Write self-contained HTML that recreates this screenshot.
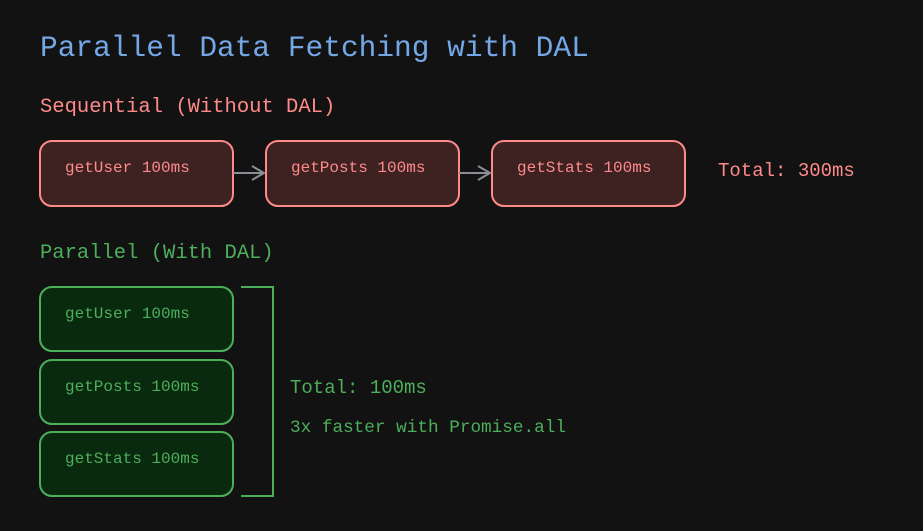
<!DOCTYPE html>
<html><head><style>html,body{margin:0;padding:0;background:#121212;}svg{display:block}</style></head>
<body>
<svg width="923" height="531" xmlns="http://www.w3.org/2000/svg" font-family="'Liberation Mono', monospace">
<rect width="923" height="531" fill="#121212"/>
<text x="40" y="56" font-size="29.5" fill="#74a7e6">Parallel Data Fetching with DAL</text>
<text x="40" y="112" font-size="20.5" fill="#ff8a8a">Sequential (Without DAL)</text>
<g fill="#3e2222" stroke="#ff8a8a" stroke-width="2">
<rect x="40" y="141" width="193" height="65" rx="12"/>
<rect x="266" y="141" width="193" height="65" rx="12"/>
<rect x="492" y="141" width="193" height="65" rx="12"/>
</g>
<g stroke="#8a8f96" stroke-width="2" fill="none">
<line x1="233" y1="173" x2="264" y2="173"/><polyline points="252,166 264,173 252,180"/>
<line x1="459" y1="173" x2="490" y2="173"/><polyline points="478,166 490,173 478,180"/>
</g>
<g font-size="16" fill="#ff8a8a">
<text x="65" y="172">getUser 100ms</text>
<text x="291" y="172">getPosts 100ms</text>
<text x="517" y="172">getStats 100ms</text>
</g>
<text x="718" y="176" font-size="19" fill="#ff8a8a">Total: 300ms</text>
<text x="40" y="258" font-size="20.5" fill="#4caf5a">Parallel (With DAL)</text>
<g fill="#0a2a10" stroke="#4caf5a" stroke-width="2">
<rect x="40" y="287" width="193" height="64" rx="12"/>
<rect x="40" y="360" width="193" height="64" rx="12"/>
<rect x="40" y="432" width="193" height="64" rx="12"/>
</g>
<g font-size="16" fill="#4caf5a">
<text x="65" y="318">getUser 100ms</text>
<text x="65" y="391">getPosts 100ms</text>
<text x="65" y="463">getStats 100ms</text>
</g>
<polyline points="241,287 273,287 273,496 241,496" fill="none" stroke="#4caf5a" stroke-width="2"/>
<text x="290" y="393" font-size="19" fill="#4caf5a">Total: 100ms</text>
<text x="290" y="432" font-size="17.7" fill="#4caf5a">3x faster with Promise.all</text>
</svg>
</body></html>
